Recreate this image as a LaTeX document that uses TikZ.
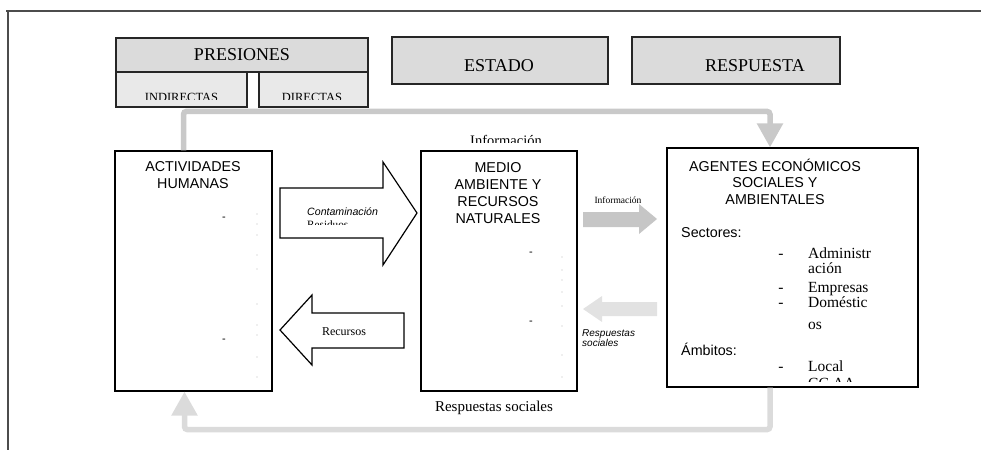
\documentclass[tikz,border=0pt]{standalone}
\usepackage{fontspec}
\setmainfont{Liberation Serif}
\newfontfamily\arialfont{Liberation Sans}
\usetikzlibrary{positioning,arrows.meta}

\begin{document}
\begin{tikzpicture}[x=1pt, y=-1pt,
  hdr/.style={rectangle, draw=black!85, line width=1.2pt, fill=gray!28, inner sep=0pt},
  subhdr/.style={hdr, fill=gray!17},
  cell/.style={rectangle, draw, line width=1.2pt, inner sep=0pt},
  ttl/.style={align=center, inner sep=0pt, font=\arialfont\fontsize{14.3}{17}\selectfont},
  item/.style={anchor=base west, inner sep=0pt, font=\fontsize{15.5}{15.5}\selectfont},
  itemdash/.style={anchor=base, inner sep=0pt, font=\fontsize{15.5}{15.5}\selectfont},
  dashmark/.style={inner sep=0pt, font=\arialfont\fontsize{11}{11}\selectfont},
  speck/.style={circle, fill=gray!55, inner sep=0pt, minimum size=1.3pt},
  blockarrow/.style={draw, line width=1.2pt, fill=white, line join=miter},
  feed/.style={line width=5.5pt, rounded corners=3pt, -{Triangle[width=25pt,length=24pt]}}]

\useasboundingbox (0,0) rectangle (981,450);
\draw[black!70, line width=1.5pt] (6,11) -- (981,11);
\draw[black!70, line width=1.5pt] (8,11) -- (8,450);

\node[hdr, minimum width=252pt, minimum height=34pt, font=\fontsize{18}{18}\selectfont] at (242,55) (presiones) {PRESIONES};
\node[subhdr, minimum width=131pt, minimum height=35pt] at (181.5,89.5) (indirectas) {};
\node[subhdr, minimum width=109pt, minimum height=35pt] at (313.5,89.5) (directas) {};
\node[hdr, minimum width=216pt, minimum height=47pt] at (500,60.5) (estado) {};
\node[hdr, minimum width=208pt, minimum height=47pt] at (736,60.5) (respuesta) {};
\node[font=\fontsize{18}{18}\selectfont] at (499,66) (estadotxt) {ESTADO};
\node[font=\fontsize{18}{18}\selectfont] at (755,66) (respuestatxt) {RESPUESTA};

\begin{scope}
\clip (116,72) rectangle (368,99);
\node[anchor=base, inner sep=0pt, font=\fontsize{12.5}{12.5}\selectfont] at (181.5,101) (indirtxt) {INDIRECTAS};
\node[anchor=base, inner sep=0pt, font=\fontsize{12.5}{12.5}\selectfont] at (312,101) (dirtxt) {DIRECTAS};
\end{scope}

\node[cell, minimum width=157pt, minimum height=240pt] at (193.5,271) (act) {};
\node[cell, minimum width=156pt, minimum height=240pt] at (499,271) (medio) {};
\node[cell, minimum width=251pt, minimum height=239pt] at (792.5,267.5) (agt) {};

\node[ttl] at (193,175.5) (acttxt) {ACTIVIDADES\\HUMANAS};
\node[ttl] at (498,193) (mediotxt) {MEDIO\\AMBIENTE Y\\RECURSOS\\NATURALES};
\node[ttl, font=\arialfont\fontsize{14.3}{16.5}\selectfont] at (775,181.5) (agttxt) {AGENTES ECONÓMICOS\\SOCIALES Y\\AMBIENTALES};

\node[dashmark] at (224,219) (actdasha) {-};
\node[dashmark] at (224,341) (actdashb) {-};
\node[dashmark] at (531,254) (mediodasha) {-};
\node[dashmark] at (531,323) (mediodashb) {-};
\foreach \y in {214,224,235,255,269,304,325,335,357,377}
  \node[speck] at (257,\y) {};
\foreach \y in {257,270,280,292,306,326,355,377}
  \node[speck] at (562,\y) {};

\node[anchor=base west, inner sep=0pt, font=\arialfont\fontsize{14.3}{14.3}\selectfont] at (681,237) (sectores) {Sectores:};
\node[itemdash] at (781,258) (dasha) {-};
\node[item] at (808,258) (admin) {Administr};
\node[item] at (808,273) (admintwo) {ación};
\node[itemdash] at (781,292) (dashb) {-};
\node[item] at (808,292) (empresas) {Empresas};
\node[itemdash] at (781,307) (dashc) {-};
\node[item] at (808,307) (domestic) {Doméstic};
\node[item] at (808,329) (domestictwo) {os};
\node[anchor=base west, inner sep=0pt, font=\arialfont\fontsize{14.3}{14.3}\selectfont] at (681,355) (ambitos) {Ámbitos:};
\node[itemdash] at (781,371) (dashd) {-};
\node[item] at (808,371) (local) {Local};
\begin{scope}
\clip (700,370) rectangle (900,381);
\node[item] at (808,388.5) (ccaa) {CC.AA.};
\end{scope}

\draw[blockarrow] (280,188) -- (383,188) -- (383,162) -- (417,213) -- (383,265) -- (383,238) -- (280,238) -- cycle;
\node[anchor=base west, inner sep=0pt, font=\arialfont\itshape\fontsize{10.6}{10.6}\selectfont] at (307,215) (contam) {Contaminación};
\begin{scope}
\clip (300,216) rectangle (380,224);
\node[anchor=base west, inner sep=0pt, font=\fontsize{11.2}{11.2}\selectfont] at (307,228) (residuos) {Residuos};
\end{scope}

\draw[blockarrow] (280,330) -- (312,295) -- (312,313) -- (404,313) -- (404,348) -- (312,348) -- (312,365) -- cycle;
\node[font=\fontsize{12}{12}\selectfont] at (344,332) (recursos) {Recursos};

\fill[gray!45] (583,212) -- (639,212) -- (639,204) -- (657,219) -- (639,234) -- (639,227) -- (583,227) -- cycle;
\node[font=\fontsize{9.5}{9.5}\selectfont] at (618,200) (infosmall) {Información};
\fill[gray!23] (583,309) -- (602,296) -- (602,302) -- (657,302) -- (657,316) -- (602,316) -- (602,322) -- cycle;
\node[anchor=north west, align=left, inner sep=0pt, font=\arialfont\itshape\fontsize{10}{10}\selectfont] at (582,329) (respsmall) {Respuestas\\sociales};

\draw[feed, gray!42] ([xshift=-10pt]act.north) -- ++(0,-39) -| ([xshift=-22.5pt]agt.north);
\begin{scope}
\clip (440,130) rectangle (580,142);
\node[anchor=base, inner sep=0pt, font=\fontsize{14.5}{14.5}\selectfont] at (506,145) (infotop) {Información};
\end{scope}

\draw[feed, gray!28] ([xshift=-22.5pt]agt.south) -- ++(0,42) -| ([xshift=-9pt]act.south);
\node[font=\fontsize{15}{15}\selectfont] at (494,408) (respbottom) {Respuestas sociales};
\end{tikzpicture}
\end{document}
